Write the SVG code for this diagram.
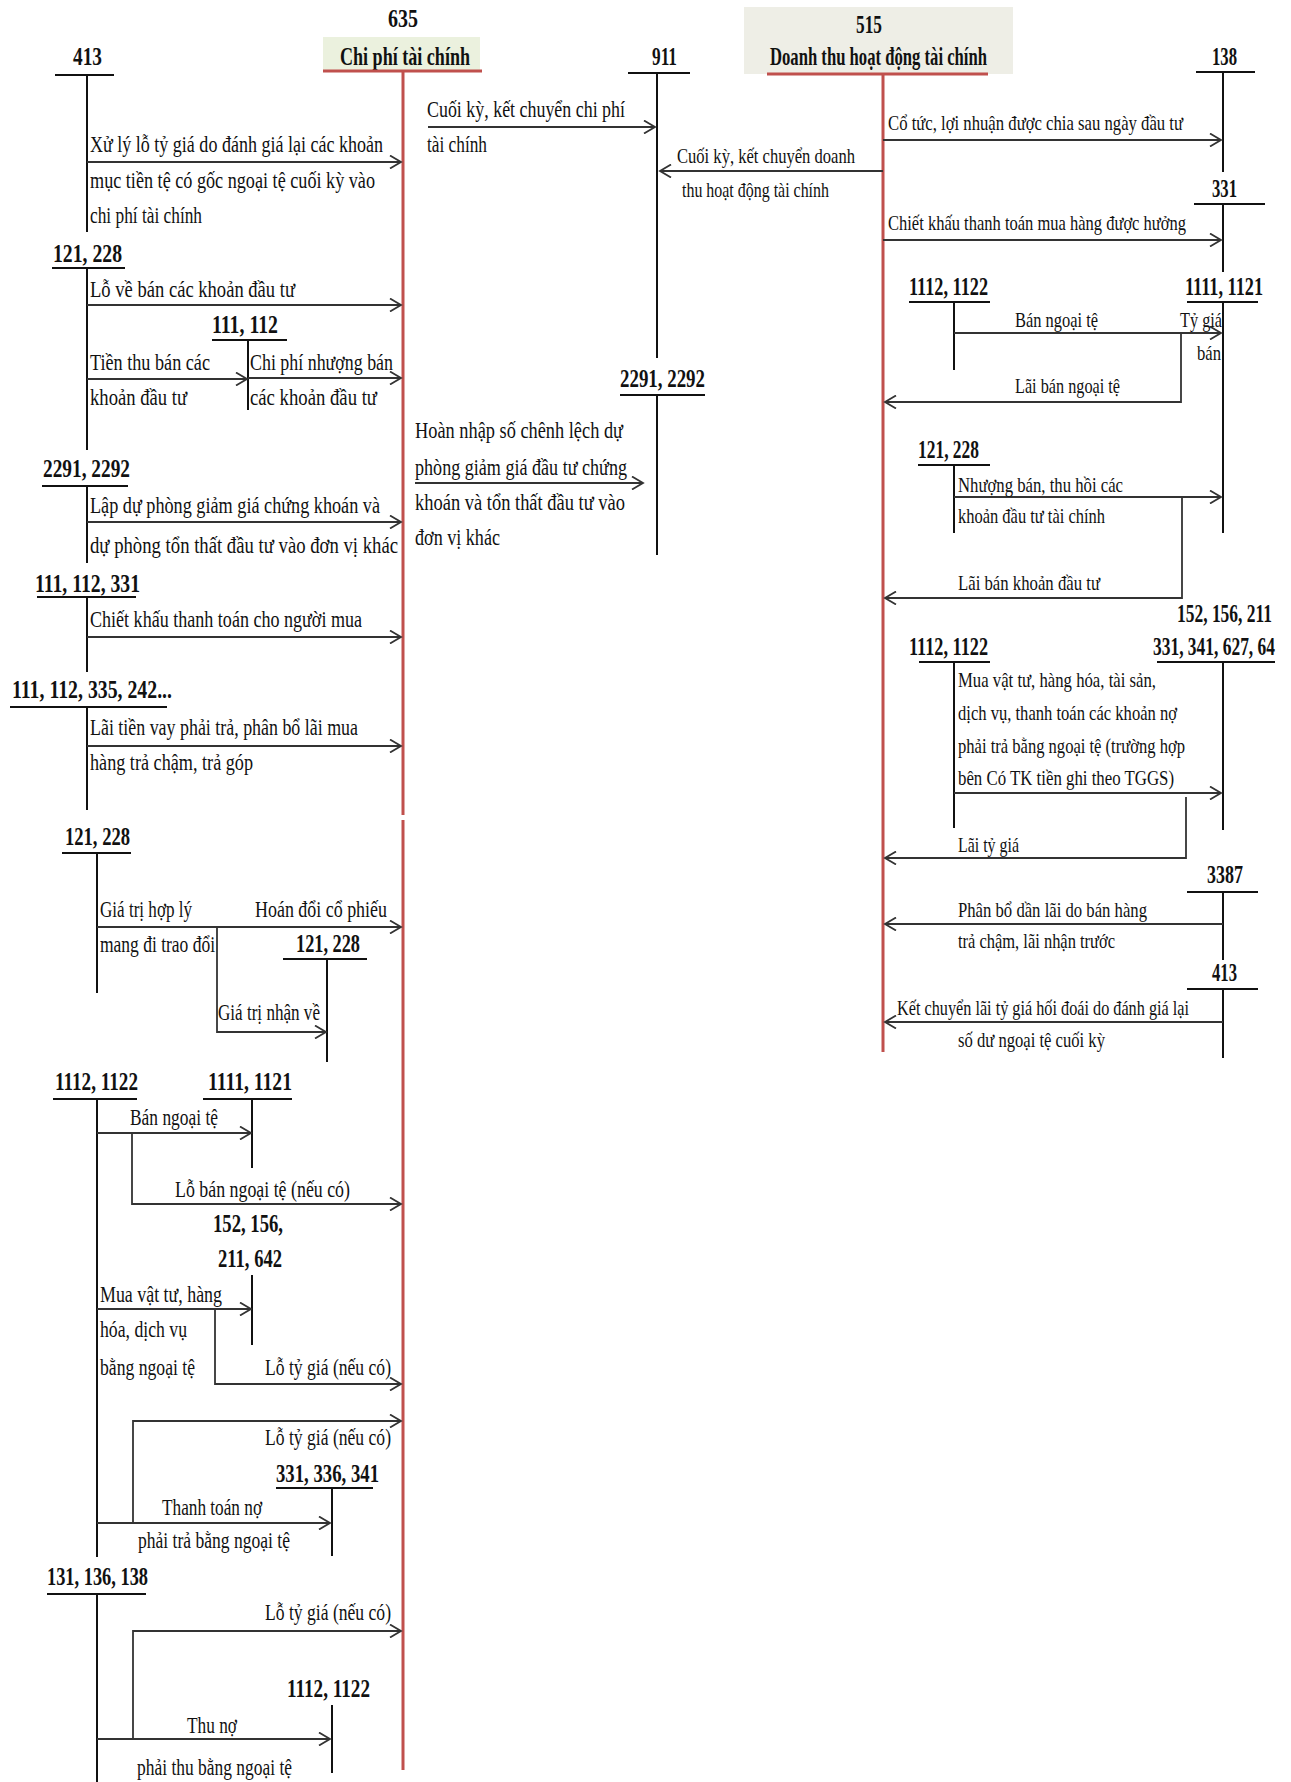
<svg xmlns="http://www.w3.org/2000/svg" width="1291" height="1782" viewBox="0 0 1291 1782">
<style>
.t{font-family:"Liberation Serif","Times New Roman",serif;font-size:23px;fill:#111}
.r{font-family:"Liberation Serif","Times New Roman",serif;font-size:21px;fill:#111}
.b{font-family:"Liberation Serif","Times New Roman",serif;font-size:25px;font-weight:bold;fill:#111}
.ac line,.ac polyline{stroke:#111;stroke-width:2;fill:none}
.red{stroke:#c0504d;stroke-width:3;fill:none}
.cn line,.cn polyline{stroke:#333;stroke-width:1.8;fill:none;marker-end:url(#ah)}
</style>
<defs>
<marker id="ah" markerWidth="14" markerHeight="14" refX="12" refY="7" orient="auto" markerUnits="userSpaceOnUse">
<path d="M1,0.5 L12,7 L1,13.5" fill="none" stroke="#333" stroke-width="1.8"/>
</marker>
</defs>
<rect width="1291" height="1782" fill="#fff"/>

<!-- main accounts -->
<g id="acc635">
<rect x="323" y="37" width="157" height="35" fill="#ebf1de"/>
<text class="b" x="388" y="27" textLength="30" lengthAdjust="spacingAndGlyphs">635</text>
<text class="b" x="340" y="65" textLength="130" lengthAdjust="spacingAndGlyphs">Chi phí tài chính</text>
<line class="red" x1="323" y1="71" x2="482" y2="71"/>
<line class="red" x1="403" y1="71" x2="403" y2="815"/>
<line class="red" x1="403" y1="820" x2="403" y2="1770"/>
</g>
<g id="acc515">
<rect x="744" y="7" width="269" height="67" fill="#eeeee6"/>
<text class="b" x="856" y="33" textLength="26" lengthAdjust="spacingAndGlyphs">515</text>
<text class="b" x="770" y="65" textLength="217" lengthAdjust="spacingAndGlyphs">Doanh thu hoạt động tài chính</text>
<line class="red" x1="767" y1="74" x2="988" y2="74"/>
<line class="red" x1="883" y1="74" x2="883" y2="1052"/>
</g>
<g id="acc911" class="ac">
<text class="b" x="652" y="65" textLength="25" lengthAdjust="spacingAndGlyphs">911</text>
<line x1="628" y1="73" x2="690" y2="73"/><line x1="657" y1="73" x2="657" y2="358"/>
</g>
<g id="acc2291m" class="ac">
<text class="b" x="620" y="387" textLength="85" lengthAdjust="spacingAndGlyphs">2291, 2292</text>
<line x1="620" y1="395" x2="705" y2="395"/><line x1="657" y1="395" x2="657" y2="555"/>
</g>

<!-- left accounts -->
<g id="acc413L" class="ac">
<text class="b" x="73" y="65" textLength="29" lengthAdjust="spacingAndGlyphs">413</text>
<line x1="55" y1="75" x2="114" y2="75"/><line x1="87" y1="75" x2="87" y2="232"/>
</g>
<g id="acc121a" class="ac">
<text class="b" x="53" y="262" textLength="69" lengthAdjust="spacingAndGlyphs">121, 228</text>
<line x1="52" y1="268" x2="125" y2="268"/><line x1="87" y1="268" x2="87" y2="450"/>
</g>
<g id="acc111_112" class="ac">
<text class="b" x="212" y="333" textLength="66" lengthAdjust="spacingAndGlyphs">111, 112</text>
<line x1="212" y1="340" x2="287" y2="340"/><line x1="248" y1="340" x2="248" y2="410"/>
</g>
<g id="acc2291L" class="ac">
<text class="b" x="43" y="477" textLength="87" lengthAdjust="spacingAndGlyphs">2291, 2292</text>
<line x1="42" y1="486" x2="128" y2="486"/><line x1="87" y1="486" x2="87" y2="563"/>
</g>
<g id="acc111_112_331" class="ac">
<text class="b" x="35" y="592" textLength="105" lengthAdjust="spacingAndGlyphs">111, 112, 331</text>
<line x1="37" y1="597" x2="136" y2="597"/><line x1="87" y1="597" x2="87" y2="672"/>
</g>
<g id="acc111_242" class="ac">
<text class="b" x="12" y="698" textLength="160" lengthAdjust="spacingAndGlyphs">111, 112, 335, 242...</text>
<line x1="10" y1="707" x2="167" y2="707"/><line x1="87" y1="707" x2="87" y2="810"/>
</g>
<g id="acc121b" class="ac">
<text class="b" x="65" y="845" textLength="65" lengthAdjust="spacingAndGlyphs">121, 228</text>
<line x1="62" y1="853" x2="131" y2="853"/><line x1="97" y1="853" x2="97" y2="993"/>
</g>
<g id="acc121c" class="ac">
<text class="b" x="296" y="952" textLength="64" lengthAdjust="spacingAndGlyphs">121, 228</text>
<line x1="283" y1="959" x2="367" y2="959"/><line x1="327" y1="959" x2="327" y2="1062"/>
</g>
<g id="acc1112L" class="ac">
<text class="b" x="55" y="1090" textLength="83" lengthAdjust="spacingAndGlyphs">1112, 1122</text>
<line x1="53" y1="1099" x2="137" y2="1099"/><line x1="97" y1="1099" x2="97" y2="1557"/>
</g>
<g id="acc1111L" class="ac">
<text class="b" x="208" y="1090" textLength="84" lengthAdjust="spacingAndGlyphs">1111, 1121</text>
<line x1="203" y1="1099" x2="292" y2="1099"/><line x1="252" y1="1099" x2="252" y2="1168"/>
</g>
<g id="acc152L" class="ac">
<text class="b" x="213" y="1232" textLength="70" lengthAdjust="spacingAndGlyphs">152, 156,</text>
<text class="b" x="218" y="1267" textLength="64" lengthAdjust="spacingAndGlyphs">211, 642</text>
<line x1="252" y1="1275" x2="252" y2="1345"/>
</g>
<g id="acc331L" class="ac">
<text class="b" x="276" y="1482" textLength="103" lengthAdjust="spacingAndGlyphs">331, 336, 341</text>
<line x1="276" y1="1488" x2="373" y2="1488"/><line x1="332" y1="1488" x2="332" y2="1556"/>
</g>
<g id="acc131" class="ac">
<text class="b" x="47" y="1585" textLength="101" lengthAdjust="spacingAndGlyphs">131, 136, 138</text>
<line x1="47" y1="1594" x2="146" y2="1594"/><line x1="97" y1="1594" x2="97" y2="1782"/>
</g>
<g id="acc1112Lb" class="ac">
<text class="b" x="287" y="1697" textLength="83" lengthAdjust="spacingAndGlyphs">1112, 1122</text>
<line x1="332" y1="1705" x2="332" y2="1773"/>
</g>

<!-- right accounts -->
<g id="acc138" class="ac">
<text class="b" x="1212" y="65" textLength="25" lengthAdjust="spacingAndGlyphs">138</text>
<line x1="1196" y1="72" x2="1255" y2="72"/><line x1="1223" y1="72" x2="1223" y2="172"/>
</g>
<g id="acc331R" class="ac">
<text class="b" x="1212" y="197" textLength="25" lengthAdjust="spacingAndGlyphs">331</text>
<line x1="1194" y1="204" x2="1265" y2="204"/><line x1="1223" y1="204" x2="1223" y2="272"/>
</g>
<g id="acc1112R" class="ac">
<text class="b" x="909" y="295" textLength="79" lengthAdjust="spacingAndGlyphs">1112, 1122</text>
<line x1="909" y1="302" x2="990" y2="302"/><line x1="954" y1="302" x2="954" y2="370"/>
</g>
<g id="acc1111R" class="ac">
<text class="b" x="1185" y="295" textLength="78" lengthAdjust="spacingAndGlyphs">1111, 1121</text>
<line x1="1187" y1="302" x2="1258" y2="302"/><line x1="1223" y1="302" x2="1223" y2="533"/>
</g>
<g id="acc121R" class="ac">
<text class="b" x="918" y="458" textLength="61" lengthAdjust="spacingAndGlyphs">121, 228</text>
<line x1="918" y1="465" x2="990" y2="465"/><line x1="954" y1="465" x2="954" y2="533"/>
</g>
<g id="acc1112R2" class="ac">
<text class="b" x="909" y="655" textLength="79" lengthAdjust="spacingAndGlyphs">1112, 1122</text>
<line x1="919" y1="662" x2="990" y2="662"/><line x1="954" y1="662" x2="954" y2="828"/>
</g>
<g id="acc152R" class="ac">
<text class="b" x="1177" y="622" textLength="95" lengthAdjust="spacingAndGlyphs">152, 156, 211</text>
<text class="b" x="1153" y="655" textLength="122" lengthAdjust="spacingAndGlyphs">331, 341, 627, 64</text>
<line x1="1157" y1="662" x2="1275" y2="662"/><line x1="1223" y1="662" x2="1223" y2="830"/>
</g>
<g id="acc3387" class="ac">
<text class="b" x="1207" y="883" textLength="36" lengthAdjust="spacingAndGlyphs">3387</text>
<line x1="1187" y1="892" x2="1258" y2="892"/><line x1="1223" y1="892" x2="1223" y2="960"/>
</g>
<g id="acc413R" class="ac">
<text class="b" x="1212" y="981" textLength="25" lengthAdjust="spacingAndGlyphs">413</text>
<line x1="1187" y1="989" x2="1258" y2="989"/><line x1="1223" y1="989" x2="1223" y2="1058"/>
</g>

<!-- connectors -->
<g id="connectors" class="cn">
<line x1="87" y1="162" x2="401" y2="162"/>
<line x1="87" y1="305" x2="401" y2="305"/>
<line x1="87" y1="379" x2="247" y2="379"/>
<line x1="248" y1="378" x2="401" y2="378"/>
<line x1="87" y1="522" x2="401" y2="522"/>
<line x1="87" y1="637" x2="401" y2="637"/>
<line x1="87" y1="746" x2="401" y2="746"/>
<line x1="97" y1="927" x2="401" y2="927"/>
<polyline points="217,927 217,1032 326,1032"/>
<line x1="97" y1="1133" x2="251" y2="1133"/>
<polyline points="132,1133 132,1204 401,1204"/>
<line x1="97" y1="1309" x2="251" y2="1309"/>
<polyline points="215,1309 215,1384 401,1384"/>
<polyline points="133,1523 133,1421 401,1421"/>
<line x1="97" y1="1523" x2="330" y2="1523"/>
<polyline points="133,1739 133,1631 401,1631"/>
<line x1="97" y1="1739" x2="330" y2="1739"/>
<line x1="428" y1="127" x2="655" y2="127"/>
<line x1="883" y1="171" x2="660" y2="171"/>
<line x1="415" y1="483" x2="643" y2="483"/>
<line x1="883" y1="140" x2="1221" y2="140"/>
<line x1="883" y1="240" x2="1221" y2="240"/>
<line x1="954" y1="333" x2="1221" y2="333"/>
<polyline points="1181,333 1181,402 885,402"/>
<line x1="954" y1="497" x2="1221" y2="497"/>
<polyline points="1182,497 1182,598 885,598"/>
<line x1="954" y1="793" x2="1221" y2="793"/>
<polyline points="1186,797 1186,858 885,858"/>
<line x1="1223" y1="924" x2="885" y2="924"/>
<line x1="1223" y1="1022" x2="885" y2="1022"/>
</g>

<!-- connector labels -->
<g id="labels">
<text class="t" x="90" y="152" textLength="293" lengthAdjust="spacingAndGlyphs">Xử lý lỗ tỷ giá do đánh giá lại các khoản</text>
<text class="t" x="90" y="188" textLength="285" lengthAdjust="spacingAndGlyphs">mục tiền tệ có gốc ngoại tệ cuối kỳ vào</text>
<text class="t" x="90" y="223" textLength="112" lengthAdjust="spacingAndGlyphs">chi phí tài chính</text>
<text class="t" x="90" y="297" textLength="205" lengthAdjust="spacingAndGlyphs">Lỗ về bán các khoản đầu tư</text>
<text class="t" x="90" y="370" textLength="120" lengthAdjust="spacingAndGlyphs">Tiền thu bán các</text>
<text class="t" x="90" y="405" textLength="97" lengthAdjust="spacingAndGlyphs">khoản đầu tư</text>
<text class="t" x="250" y="370" textLength="143" lengthAdjust="spacingAndGlyphs">Chi phí nhượng bán</text>
<text class="t" x="250" y="405" textLength="127" lengthAdjust="spacingAndGlyphs">các khoản đầu tư</text>
<text class="t" x="90" y="513" textLength="290" lengthAdjust="spacingAndGlyphs">Lập dự phòng giảm giá chứng khoán và</text>
<text class="t" x="90" y="553" textLength="308" lengthAdjust="spacingAndGlyphs">dự phòng tổn thất đầu tư vào đơn vị  khác</text>
<text class="t" x="90" y="627" textLength="272" lengthAdjust="spacingAndGlyphs">Chiết khấu thanh toán cho người mua</text>
<text class="t" x="90" y="735" textLength="268" lengthAdjust="spacingAndGlyphs">Lãi tiền vay phải trả, phân bổ lãi mua</text>
<text class="t" x="90" y="770" textLength="163" lengthAdjust="spacingAndGlyphs">hàng trả chậm, trả góp</text>
<text class="t" x="100" y="917" textLength="92" lengthAdjust="spacingAndGlyphs">Giá trị hợp lý</text>
<text class="t" x="100" y="952" textLength="115" lengthAdjust="spacingAndGlyphs">mang đi trao đổi</text>
<text class="t" x="255" y="917" textLength="132" lengthAdjust="spacingAndGlyphs">Hoán đổi cổ phiếu</text>
<text class="t" x="218" y="1020" textLength="102" lengthAdjust="spacingAndGlyphs">Giá trị nhận về</text>
<text class="t" x="130" y="1125" textLength="88" lengthAdjust="spacingAndGlyphs">Bán ngoại tệ</text>
<text class="t" x="175" y="1197" textLength="175" lengthAdjust="spacingAndGlyphs">Lỗ bán ngoại tệ (nếu có)</text>
<text class="t" x="100" y="1302" textLength="122" lengthAdjust="spacingAndGlyphs">Mua vật tư, hàng</text>
<text class="t" x="100" y="1337" textLength="87" lengthAdjust="spacingAndGlyphs">hóa, dịch vụ</text>
<text class="t" x="100" y="1375" textLength="95" lengthAdjust="spacingAndGlyphs">bằng ngoại tệ</text>
<text class="t" x="265" y="1375" textLength="126" lengthAdjust="spacingAndGlyphs">Lỗ tỷ giá (nếu có)</text>
<text class="t" x="265" y="1445" textLength="126" lengthAdjust="spacingAndGlyphs">Lỗ tỷ giá (nếu có)</text>
<text class="t" x="162" y="1515" textLength="100" lengthAdjust="spacingAndGlyphs">Thanh toán nợ</text>
<text class="t" x="138" y="1548" textLength="152" lengthAdjust="spacingAndGlyphs">phải trả bằng ngoại tệ</text>
<text class="t" x="265" y="1620" textLength="126" lengthAdjust="spacingAndGlyphs">Lỗ tỷ giá (nếu có)</text>
<text class="t" x="187" y="1733" textLength="50" lengthAdjust="spacingAndGlyphs">Thu nợ</text>
<text class="t" x="137" y="1775" textLength="155" lengthAdjust="spacingAndGlyphs">phải thu bằng ngoại tệ</text>

<text class="t" x="427" y="117" textLength="198" lengthAdjust="spacingAndGlyphs">Cuối kỳ, kết chuyển chi phí</text>
<text class="t" x="427" y="152" textLength="60" lengthAdjust="spacingAndGlyphs">tài chính</text>
<text class="r" x="677" y="163" textLength="178" lengthAdjust="spacingAndGlyphs">Cuối kỳ, kết chuyển doanh</text>
<text class="r" x="682" y="197" textLength="147" lengthAdjust="spacingAndGlyphs">thu hoạt động tài chính</text>
<text class="t" x="415" y="438" textLength="208" lengthAdjust="spacingAndGlyphs">Hoàn nhập số chênh lệch dự</text>
<text class="t" x="415" y="475" textLength="212" lengthAdjust="spacingAndGlyphs">phòng giảm giá đầu tư chứng</text>
<text class="t" x="415" y="510" textLength="210" lengthAdjust="spacingAndGlyphs">khoán và tổn thất đầu tư vào</text>
<text class="t" x="415" y="545" textLength="85" lengthAdjust="spacingAndGlyphs">đơn vị khác</text>

<text class="r" x="888" y="130" textLength="295" lengthAdjust="spacingAndGlyphs">Cổ tức, lợi nhuận được chia sau ngày đầu tư</text>
<text class="r" x="888" y="230" textLength="298" lengthAdjust="spacingAndGlyphs">Chiết khấu thanh toán mua hàng được hưởng</text>
<text class="r" x="1015" y="327" textLength="83" lengthAdjust="spacingAndGlyphs">Bán ngoại tệ</text>
<text class="r" x="1180" y="327" textLength="42" lengthAdjust="spacingAndGlyphs">Tỷ giá</text>
<text class="r" x="1197" y="360" textLength="24" lengthAdjust="spacingAndGlyphs">bán</text>
<text class="r" x="1015" y="393" textLength="105" lengthAdjust="spacingAndGlyphs">Lãi bán ngoại tệ</text>
<text class="r" x="958" y="492" textLength="165" lengthAdjust="spacingAndGlyphs">Nhượng bán, thu hồi các</text>
<text class="r" x="958" y="523" textLength="147" lengthAdjust="spacingAndGlyphs">khoản đầu tư tài chính</text>
<text class="r" x="958" y="590" textLength="142" lengthAdjust="spacingAndGlyphs">Lãi bán khoản đầu tư</text>
<text class="r" x="958" y="687" textLength="198" lengthAdjust="spacingAndGlyphs">Mua vật tư, hàng hóa, tài sản,</text>
<text class="r" x="958" y="720" textLength="219" lengthAdjust="spacingAndGlyphs">dịch vụ, thanh toán các khoản nợ</text>
<text class="r" x="958" y="753" textLength="227" lengthAdjust="spacingAndGlyphs">phải trả bằng ngoại tệ (trường hợp</text>
<text class="r" x="958" y="785" textLength="216" lengthAdjust="spacingAndGlyphs">bên Có TK tiền ghi theo TGGS)</text>
<text class="r" x="958" y="852" textLength="61" lengthAdjust="spacingAndGlyphs">Lãi tỷ giá</text>
<text class="r" x="958" y="917" textLength="189" lengthAdjust="spacingAndGlyphs">Phân bổ dần lãi do bán hàng</text>
<text class="r" x="958" y="948" textLength="157" lengthAdjust="spacingAndGlyphs">trả chậm, lãi nhận trước</text>
<text class="r" x="897" y="1015" textLength="292" lengthAdjust="spacingAndGlyphs">Kết chuyển lãi tỷ giá hối đoái do đánh giá lại</text>
<text class="r" x="958" y="1047" textLength="147" lengthAdjust="spacingAndGlyphs">số dư ngoại tệ cuối kỳ</text>
</g>
</svg>
